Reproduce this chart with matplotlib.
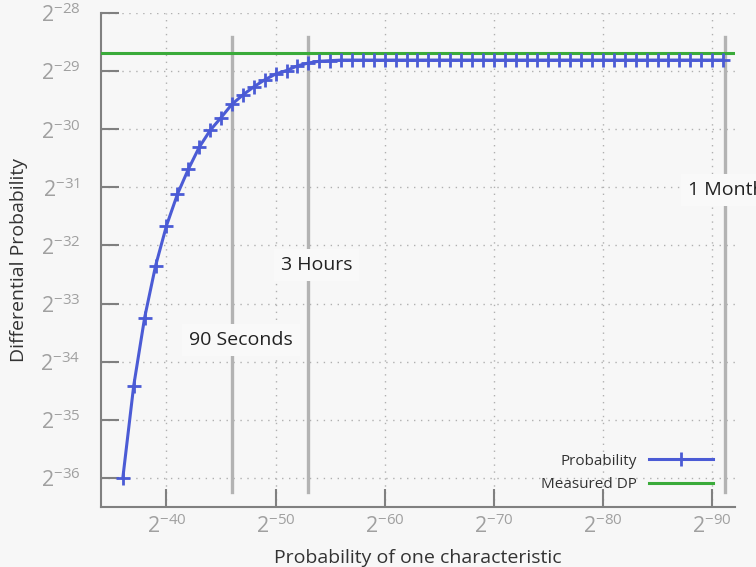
import matplotlib
matplotlib.use("Agg")
import matplotlib.pyplot as plt
import numpy as np

# ---- data (log2 values) ----
char_prob_exp = [-36, -37, -38, -39, -40, -41, -42, -43, -44, -45, -46, -47,
                 -48, -49, -50, -51, -52, -53, -54, -55, -56, -57, -58, -59,
                 -60, -61, -62, -63, -64, -65, -66, -67, -68, -69, -70, -71,
                 -72, -73, -74, -75, -76, -77, -78, -79, -80, -81, -82, -83,
                 -84, -85, -86, -87, -88, -89, -90, -91]
diff_prob_exp = [-36.00, -34.41, -33.24, -32.35, -31.66, -31.12, -30.69, -30.31,
                 -30.02, -29.80, -29.57, -29.41, -29.27, -29.15, -29.05, -28.99,
                 -28.91, -28.86, -28.83, -28.82, -28.81, -28.81, -28.81, -28.81,
                 -28.81, -28.81, -28.81, -28.81, -28.81, -28.81, -28.81, -28.81,
                 -28.81, -28.81, -28.81, -28.81, -28.81, -28.81, -28.81, -28.81,
                 -28.81, -28.81, -28.81, -28.81, -28.81, -28.81, -28.81, -28.81,
                 -28.81, -28.81, -28.81, -28.81, -28.81, -28.81, -28.81, -28.81]
measured_dp_exp = -28.69

marker_names = ["90 Seconds", "3 Hours", "1 Month"]
marker_exp = [-46.0, -53.0, -91.2]
label_pos_x = [-46.84, -53.76, -87.77]
label_pos_y = [-33.63, -32.33, -31.04]
label_ha = ["center", "center", "left"]

xtick_exp = [-40, -50, -60, -70, -80, -90]
xtick_labels = ["$2^{-40}$", "$2^{-50}$", "$2^{-60}$", "$2^{-70}$", "$2^{-80}$", "$2^{-90}$"]
ytick_exp = [-36, -35, -34, -33, -32, -31, -30, -29, -28]
ytick_labels = ["$2^{-36}$", "$2^{-35}$", "$2^{-34}$", "$2^{-33}$", "$2^{-32}$",
                "$2^{-31}$", "$2^{-30}$", "$2^{-29}$", "$2^{-28}$"]

# ---- style ----
FONT = "Open Sans"
plt.rcParams["font.family"] = [FONT, "DejaVu Sans"]
plt.rcParams["mathtext.fontset"] = "custom"
plt.rcParams["mathtext.rm"] = FONT
plt.rcParams["mathtext.it"] = FONT
plt.rcParams["mathtext.bf"] = FONT
plt.rcParams["mathtext.default"] = "regular"

BG = "#f7f7f7"
BLUE = "#4b5bd5"
GREEN = "#3aab3a"
VGRAY = "#b3b3b3"
SPINE = "#808080"

fig = plt.figure(figsize=(7.56, 5.67), dpi=100, facecolor=BG)
ax = fig.add_axes([101 / 756, 60 / 567, 634 / 756, 494 / 567], facecolor=BG)

ax.set_xscale("log", base=2)
ax.set_yscale("log", base=2)

x = 2.0 ** np.array(char_prob_exp)
y = 2.0 ** np.array(diff_prob_exp)

ax.axhline(2.0 ** measured_dp_exp, color=GREEN, lw=2.2, label="Measured DP", zorder=3)
ax.plot(x, y, color=BLUE, lw=2.2, marker="+", markersize=10, mew=2.0,
        label="Probability", zorder=4)

for name, mx, lx, ly, ha in zip(marker_names, marker_exp, label_pos_x, label_pos_y, label_ha):
    ax.axvline(2.0 ** mx, ymin=0.03, ymax=0.951, color=VGRAY, lw=2.4, zorder=2)
    ax.text(2.0 ** lx, 2.0 ** ly, name, ha=ha, va="center", fontsize=14,
            color="#222222", zorder=5, clip_on=False,
            bbox=dict(facecolor="#f9f9f9", edgecolor="none", pad=5))

ax.set_xlim(2.0 ** -34, 2.0 ** -92.1)
ax.set_ylim(2.0 ** -36.5, 2.0 ** -28)

ax.set_xticks(2.0 ** np.array(xtick_exp), xtick_labels)
ax.set_yticks(2.0 ** np.array(ytick_exp), ytick_labels)
ax.minorticks_off()

ax.tick_params(axis="both", direction="in", length=13, width=1.5, color=SPINE,
               labelcolor="#a0a0a0", labelsize=15.5)
ax.tick_params(axis="y", pad=15)
ax.tick_params(axis="x", pad=5)

for s in ["top", "right"]:
    ax.spines[s].set_visible(False)
for s in ["left", "bottom"]:
    ax.spines[s].set_color(SPINE)
    ax.spines[s].set_linewidth(1.5)

ax.grid(True, which="major", linestyle=(0, (1, 4)), color="#b0b0b0", lw=1.0)
ax.set_axisbelow(True)

ax.set_xlabel("Probability of one characteristic", fontsize=14, color="#333333", labelpad=8)
ax.set_ylabel("Differential Probability", fontsize=14, color="#333333", labelpad=9)

handles, labels = ax.get_legend_handles_labels()
order = [labels.index("Probability"), labels.index("Measured DP")]
leg = ax.legend([handles[i] for i in order], [labels[i] for i in order],
                loc="lower right", bbox_to_anchor=(0.965, 0.03), frameon=False,
                markerfirst=False, numpoints=1, fontsize=11, handlelength=4.2,
                borderpad=0, borderaxespad=0, labelspacing=0.55)
for t in leg.get_texts():
    t.set_color("#333333")

fig.savefig("out.png", dpi=100, facecolor=BG)
